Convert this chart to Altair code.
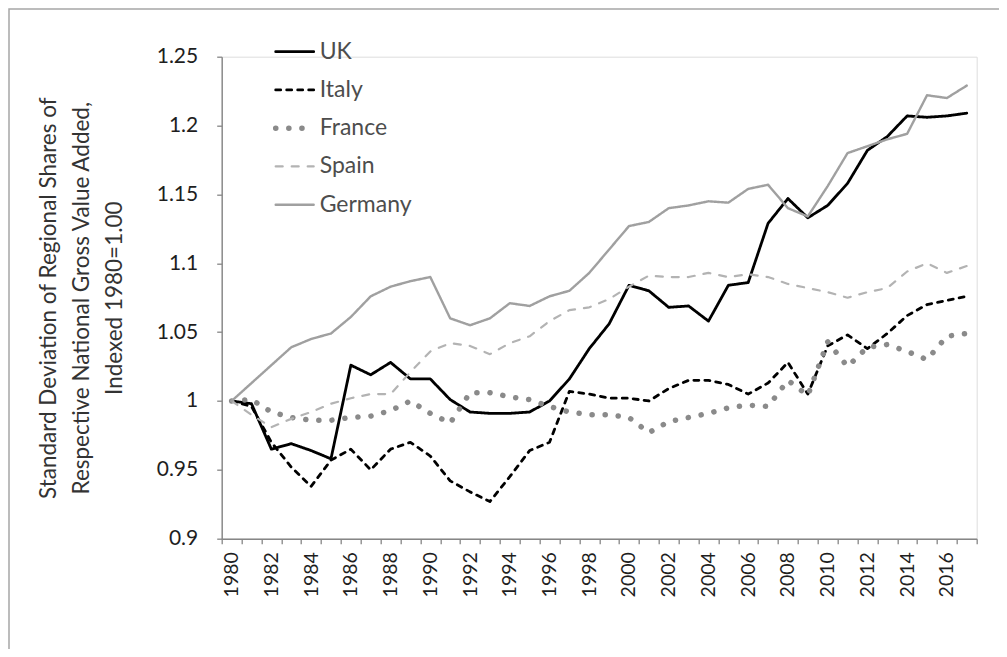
import altair as alt
import pandas as pd

years = list(range(1980, 2018))

uk = [1.000, 0.998, 0.965, 0.969, 0.964, 0.958, 1.026, 1.019, 1.028, 1.016,
      1.016, 1.001, 0.992, 0.991, 0.991, 0.992, 1.000, 1.016, 1.038, 1.056,
      1.084, 1.080, 1.068, 1.069, 1.058, 1.084, 1.086, 1.129, 1.147, 1.133,
      1.142, 1.158, 1.182, 1.192, 1.207, 1.206, 1.207, 1.209]
italy = [1.000, 0.996, 0.970, 0.952, 0.938, 0.957, 0.965, 0.950, 0.965, 0.970,
         0.960, 0.942, 0.934, 0.927, 0.945, 0.964, 0.970, 1.007, 1.005, 1.002,
         1.002, 1.000, 1.009, 1.015, 1.015, 1.012, 1.005, 1.013, 1.028, 1.005,
         1.040, 1.048, 1.038, 1.049, 1.062, 1.070, 1.073, 1.076]
france = [1.000, 1.001, 0.992, 0.988, 0.986, 0.986, 0.988, 0.989, 0.993, 1.000,
          0.991, 0.984, 1.006, 1.006, 1.003, 1.001, 0.996, 0.992, 0.990, 0.990,
          0.988, 0.977, 0.985, 0.988, 0.991, 0.995, 0.997, 0.996, 1.015, 1.004,
          1.043, 1.025, 1.039, 1.041, 1.036, 1.030, 1.047, 1.049]
spain = [1.000, 0.990, 0.981, 0.987, 0.992, 0.998, 1.002, 1.005, 1.005, 1.021,
         1.036, 1.042, 1.040, 1.034, 1.042, 1.047, 1.058, 1.066, 1.068, 1.074,
         1.083, 1.091, 1.090, 1.090, 1.093, 1.090, 1.092, 1.090, 1.085, 1.082,
         1.079, 1.075, 1.079, 1.082, 1.094, 1.100, 1.093, 1.098]
germany = [1.000, 1.013, 1.026, 1.039, 1.045, 1.049, 1.061, 1.076, 1.083, 1.087,
           1.090, 1.060, 1.055, 1.060, 1.071, 1.069, 1.076, 1.080, 1.093, 1.110,
           1.127, 1.130, 1.140, 1.142, 1.145, 1.144, 1.154, 1.157, 1.140, 1.134,
           1.156, 1.180, 1.185, 1.190, 1.194, 1.222, 1.220, 1.229]

countries = ["UK", "Italy", "France", "Spain", "Germany"]
colors = ["#000000", "#000000", "#8a8a8a", "#b3b3b3", "#a0a0a0"]
dashes = [[1, 0], [5, 6], [0.1, 13], [7, 9], [1, 0]]
widths = [2.8, 2.8, 5.5, 2.2, 2.4]

y_ticks = [0.9, 0.95, 1.0, 1.05, 1.1, 1.15, 1.2, 1.25]
y_title = ["Standard Deviation of Regional Shares of",
           "Respective National Gross Value Added,",
           "Indexed 1980=1.00"]

rows = []
for c, vals in zip(countries, [uk, italy, france, spain, germany]):
    for yr, v in zip(years, vals):
        rows.append({"country": c, "year": yr, "value": v})
df = pd.DataFrame(rows)
leg = pd.DataFrame({"country": countries})

W, H = 755, 482
step = W / len(years)
x_tick_vals = [years[0] - 0.5 + k for k in range(len(years) + 1)]

FONT = "Lato"
AX = "#868686"

color = alt.Color("country:N", scale=alt.Scale(domain=countries, range=colors), legend=None)
dash = alt.StrokeDash("country:N", scale=alt.Scale(type="ordinal", domain=countries, range=dashes), legend=None)
sw = alt.StrokeWidth("country:N", scale=alt.Scale(type="ordinal", domain=countries, range=widths), legend=None)

lines = alt.Chart(df).mark_line(strokeCap="round", strokeJoin="round").encode(
    x=alt.X("year:Q",
            scale=alt.Scale(domain=[years[0] - 0.5, years[-1] + 0.5], nice=False, zero=False),
            axis=alt.Axis(values=x_tick_vals, title=None, grid=False,
                          labelExpr="((datum.value + 0.5) % 2 == 0 && datum.value < 2017) ? '' + (datum.value + 0.5) : ''",
                          labelOffset=step / 2, labelAngle=270, labelPadding=8,
                          labelOverlap=False, labelBound=False, labelFlush=False,
                          tickSize=5, tickColor=AX, domainColor=AX, domainWidth=1.4,
                          tickWidth=1.3, labelFont=FONT, labelFontSize=19.5,
                          labelColor="#1e1e1e")),
    y=alt.Y("value:Q",
            scale=alt.Scale(domain=[0.9, 1.25], nice=False, zero=False),
            axis=alt.Axis(values=y_ticks, format="~g", grid=False,
                          title=y_title, titleAngle=270, titleBaseline="top",
                          titleAlign="center", titleX=-184, titleY=H / 2,
                          titleLineHeight=33, titleFont=FONT, titleFontSize=22.5,
                          titleFontWeight="normal", titleColor="#333333",
                          tickSize=5, tickColor=AX, domainColor=AX, domainWidth=1.4,
                          tickWidth=1.3, labelPadding=19, labelFont=FONT,
                          labelFontSize=21, labelColor="#1e1e1e")),
    color=color, strokeDash=dash, strokeWidth=sw,
)

leg_y = alt.Y("country:N",
              scale=alt.Scale(type="point", domain=countries, range=[-5, 148], padding=0),
              axis=None)

leg_rules = alt.Chart(leg).mark_rule(strokeCap="round").encode(
    x=alt.value(54), x2=alt.value(92), y=leg_y,
    color=color, strokeDash=dash, strokeWidth=sw,
)
leg_text = alt.Chart(leg).mark_text(align="left", baseline="middle", font=FONT,
                                     fontSize=23, color="#4d4d4d").encode(
    x=alt.value(98), y=leg_y, text="country:N",
)

frame = alt.Chart(pd.DataFrame({"f": [0]})).mark_rect(
    fill=None, stroke="#a6a6a6", strokeWidth=1.5
).encode(
    x=alt.value(-212.7), x2=alt.value(800), y=alt.value(-47.7), y2=alt.value(800)
)

chart = alt.layer(frame, lines, leg_rules, leg_text).resolve_scale(y="independent").properties(
    width=W, height=H,
    padding={"left": 213.7, "top": 48.7, "right": 22, "bottom": 110},
    autosize=alt.AutoSizeParams(type="none"),
).configure_view(stroke=None).configure(background="white")

chart.save("out.html", embed_options={"renderer": "svg", "actions": False})
